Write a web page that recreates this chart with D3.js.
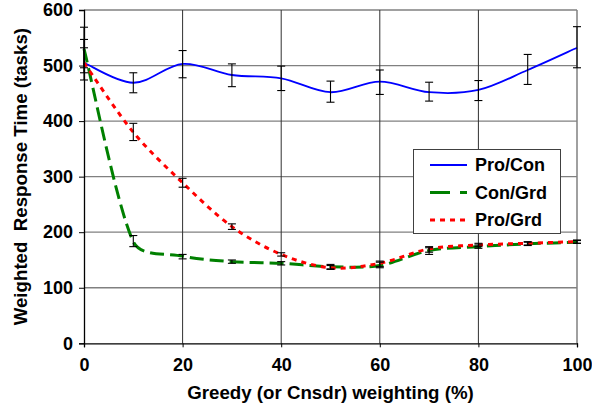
<!DOCTYPE html>
<html>
<head>
<meta charset="utf-8">
<script src="https://cdn.jsdelivr.net/npm/d3@7"></script>
<style>
  html, body { margin: 0; padding: 0; background: #fff; }
  svg { display: block; font-family: "Liberation Sans", Arial, sans-serif; }
</style>
</head>
<body>
<svg id="chart" width="592" height="408"></svg>
<script>
// Greedy / considerate weighting (%) at which each run was made
const weighting = [0, 10, 20, 30, 40, 50, 60, 70, 80, 90, 100];

// Weighted response time (tasks) per scheduling pair
const proCon = [505, 469, 503, 483, 477, 452, 471, 452, 456, 492, 532];
const conGrd = [530, 183, 157, 147, 144, 138, 140, 167, 174, 179, 182];
const proGrd = [505, 380, 289, 210, 160, 136, 144, 170, 177, 180, 183];

// Error bar bounds (low / high) per series
const proConLo = [474, 451, 478, 462, 455, 434, 448, 436, 437, 466, 496];
const proConHi = [547, 487, 527, 503, 499, 472, 492, 470, 473, 520, 570];
const conGrdLo = [496, 174, 152, 144, 141, 134, 136, 160, 171, 176, 180];
const conGrdHi = [569, 194, 160, 150, 147, 142, 146, 172, 177, 182, 185];
const proGrdLo = [487, 365, 281, 205, 157, 133, 138, 164, 174, 177, 180];
const proGrdHi = [532, 396, 297, 215, 163, 140, 148, 174, 180, 183, 186];

const yTicks = [0, 100, 200, 300, 400, 500, 600];
const xTicks = [0, 20, 40, 60, 80, 100];

const seriesNames = ["Pro/Con", "Con/Grd", "Pro/Grd"];

const series = [
  { name: seriesNames[0], values: proCon, lo: proConLo, hi: proConHi,
    color: "#0000ff", width: 1.8, dash: null, legendDash: null },
  { name: seriesNames[1], values: conGrd, lo: conGrdLo, hi: conGrdHi,
    color: "#008000", width: 3, dash: "14,6", legendDash: "20,10" },
  { name: seriesNames[2], values: proGrd, lo: proGrdLo, hi: proGrdHi,
    color: "#ff0000", width: 3, dash: "5,5", legendDash: "5,5" }
];

// Smoothed line in the spreadsheet style: the tangent at each point follows
// its two neighbours; a control arm is a sixth of the neighbour span, but never
// more than a third of the segment it belongs to.
function smoothCurve(context) {
  let pts = [];
  return {
    areaStart() {}, areaEnd() {},
    lineStart() { pts = []; },
    point(px, py) { pts.push([+px, +py]); },
    lineEnd() {
      const n = pts.length;
      if (!n) return;
      context.moveTo(pts[0][0], pts[0][1]);
      if (n === 1) return;
      const tan = pts.map((p, i) => {
        const a = pts[Math.max(0, i - 1)], b = pts[Math.min(n - 1, i + 1)];
        const dx = b[0] - a[0], dy = b[1] - a[1];
        const len = Math.hypot(dx, dy) || 1;
        return [dx / len, dy / len, len];
      });
      for (let i = 0; i < n - 1; i++) {
        const p0 = pts[i], p1 = pts[i + 1];
        const seg = Math.hypot(p1[0] - p0[0], p1[1] - p0[1]);
        const a0 = Math.min(seg / 3, tan[i][2] / 6);
        const a1 = Math.min(seg / 3, tan[i + 1][2] / 6);
        const c1 = [p0[0] + tan[i][0] * a0, p0[1] + tan[i][1] * a0];
        const c2 = [p1[0] - tan[i + 1][0] * a1, p1[1] - tan[i + 1][1] * a1];
        context.bezierCurveTo(c1[0], c1[1], c2[0], c2[1], p1[0], p1[1]);
      }
    }
  };
}

const svg = d3.select("#chart");
const plotLeft = 84, plotRight = 577, plotTop = 10, plotBottom = 343.3;

const x = d3.scaleLinear().domain([0, 100]).range([plotLeft, plotRight]);
const y = d3.scaleLinear().domain([0, 600]).range([plotBottom, plotTop]);

// horizontal grid lines
svg.append("g").selectAll("line").data(yTicks.filter(d => d > 0)).join("line")
  .attr("x1", plotLeft).attr("x2", plotRight)
  .attr("y1", d => y(d)).attr("y2", d => y(d))
  .attr("stroke", "#808080").attr("stroke-width", 1.3);

// vertical grid lines
svg.append("g").selectAll("line").data(xTicks.filter(d => d > 0 && d < 100)).join("line")
  .attr("x1", d => x(d)).attr("x2", d => x(d))
  .attr("y1", plotTop).attr("y2", plotBottom)
  .attr("stroke", "#303030").attr("stroke-width", 1);

// right border
svg.append("line")
  .attr("x1", plotRight).attr("x2", plotRight).attr("y1", plotTop).attr("y2", plotBottom)
  .attr("stroke", "#808080").attr("stroke-width", 1.5);

// axes
const yAxis = d3.axisLeft(y).tickValues(yTicks).tickSize(5).tickPadding(6);
const xAxis = d3.axisBottom(x).tickValues(xTicks).tickSize(4).tickPadding(11);

const gy = svg.append("g").attr("transform", `translate(${plotLeft},0)`).call(yAxis);
const gx = svg.append("g").attr("transform", `translate(0,${plotBottom})`).call(xAxis);
[gy, gx].forEach(g => {
  g.select(".domain").attr("stroke", "#000").attr("stroke-width", 1.3);
  g.selectAll(".tick line").attr("stroke", "#000");
  g.selectAll(".tick text")
    .attr("font-size", 18).attr("font-weight", "bold").attr("fill", "#000")
    .attr("font-family", "Liberation Sans, Arial, sans-serif");
});

// curves
const line = d3.line()
  .x((d, i) => x(weighting[i]))
  .y(d => y(d))
  .curve(smoothCurve);

series.forEach(s => {
  svg.append("path")
    .attr("d", line(s.values))
    .attr("fill", "none")
    .attr("stroke", s.color)
    .attr("stroke-width", s.width)
    .attr("stroke-dasharray", s.dash);
});

// error bars
series.forEach(s => {
  const g = svg.append("g").attr("stroke", "#000").attr("stroke-width", 1.1);
  weighting.forEach((w, i) => {
    const cx = x(w);
    g.append("line").attr("x1", cx).attr("x2", cx)
      .attr("y1", y(s.lo[i])).attr("y2", y(s.hi[i]));
    [s.lo[i], s.hi[i]].forEach(v => {
      g.append("line").attr("x1", cx - 4).attr("x2", cx + 4)
        .attr("y1", y(v)).attr("y2", y(v));
    });
  });
});

// legend
const lg = svg.append("g");
lg.append("rect")
  .attr("x", 413.5).attr("y", 149.5).attr("width", 147).attr("height", 84)
  .attr("fill", "#fff").attr("stroke", "#404040").attr("stroke-width", 1);
series.forEach((s, i) => {
  const ly = 165 + i * 27.5;
  lg.append("line")
    .attr("x1", 430).attr("x2", 467).attr("y1", ly).attr("y2", ly)
    .attr("stroke", s.color).attr("stroke-width", s.width)
    .attr("stroke-dasharray", s.legendDash);
  lg.append("text")
    .attr("x", 475).attr("y", ly).attr("dy", "0.36em")
    .attr("font-size", 18).attr("font-weight", "bold")
    .text(s.name);
});

// axis titles
svg.append("text")
  .attr("x", (plotLeft + plotRight) / 2).attr("y", 399)
  .attr("text-anchor", "middle")
  .attr("font-size", 18.7).attr("font-weight", "bold")
  .text("Greedy (or Cnsdr) weighting (%)");

svg.append("text")
  .attr("transform", `translate(26.5,${(plotTop + plotBottom) / 2}) rotate(-90)`)
  .attr("text-anchor", "middle")
  .attr("font-size", 18.7).attr("font-weight", "bold")
  .attr("xml:space", "preserve")
  .text("Weighted  Response Time (tasks)");
</script>
</body>
</html>
